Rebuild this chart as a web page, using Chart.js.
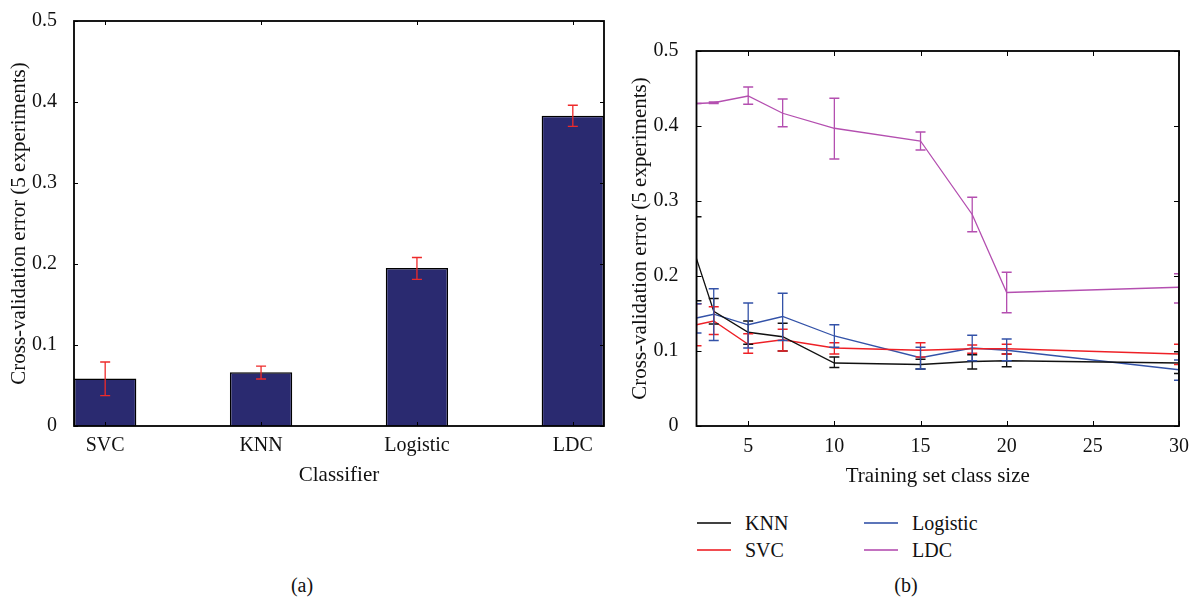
<!DOCTYPE html>
<html>
<head>
<meta charset="utf-8">
<script src="https://cdn.jsdelivr.net/npm/chart.js@4.4.0/dist/chart.umd.min.js"></script>
<style>
  body { margin: 0; background: #fff; width: 1196px; height: 600px; position: relative; overflow: hidden;
         font-family: "Liberation Serif", serif; color: #111; }
  #chartA { position: absolute; left: 0; top: 0; }
  #chartB { position: absolute; left: 620px; top: 0; }
  .caption { position: absolute; top: 573px; font-size: 20px; line-height: 24px; transform: translateX(-50%); }
  .legItem { position: absolute; height: 24px; font-size: 20px; line-height: 24px; white-space: nowrap; }
  .legLine { position: absolute; left: 0; top: 11px; width: 34px; height: 2px; }
  .legText { position: absolute; left: 48px; top: 0; }
</style>
</head>
<body>
<canvas id="chartA" width="620" height="500"></canvas>
<canvas id="chartB" width="576" height="500"></canvas>
<div class="caption" style="left:302px">(a)</div>
<div class="caption" style="left:906px">(b)</div>
<div id="legend"></div>
<script>
// (a) bar chart: mean cross-validation error per classifier
const classifiers = ['SVC', 'KNN', 'Logistic', 'LDC'];
const cvError = [0.0585, 0.0665, 0.195, 0.383];
const cvLow   = [0.0375, 0.058, 0.181, 0.370];
const cvHigh  = [0.079, 0.074, 0.208, 0.396];

// (b) error vs training set class size
const classSizes = [2, 3, 5, 7, 10, 15, 18, 20, 30];
const xTicks = [5, 10, 15, 20, 25, 30];
const seriesNames = ['KNN', 'SVC', 'Logistic', 'LDC'];
const seriesColors = ['#111111', '#ee2026', '#3352a8', '#b44fb0'];

const knnErr  = [0.223, 0.153, 0.125, 0.119, 0.084, 0.082, 0.086, 0.087, 0.084];
const knnLow  = [0.167, 0.136, 0.109, 0.100, 0.078, 0.076, 0.076, 0.079, 0.070];
const knnHigh = [0.279, 0.170, 0.140, 0.137, 0.092, 0.089, 0.095, 0.096, 0.099];

const svcErr  = [0.135, 0.140, 0.109, 0.115, 0.104, 0.101, 0.103, 0.103, 0.096];
const svcLow  = [0.107, 0.122, 0.097, 0.100, 0.096, 0.092, 0.097, 0.096, 0.082];
const svcHigh = [0.163, 0.159, 0.123, 0.129, 0.111, 0.111, 0.108, 0.109, 0.109];

const logErr  = [0.144, 0.149, 0.135, 0.146, 0.120, 0.091, 0.104, 0.101, 0.075];
const logLow  = [0.124, 0.114, 0.104, 0.114, 0.105, 0.076, 0.087, 0.087, 0.061];
const logHigh = [0.163, 0.183, 0.164, 0.177, 0.135, 0.105, 0.121, 0.116, 0.088];

const ldcErr  = [0.430, 0.431, 0.440, 0.417, 0.397, 0.380, 0.282, 0.178, 0.185];
const ldcLow  = [0.430, 0.430, 0.429, 0.399, 0.356, 0.368, 0.259, 0.151, 0.164];
const ldcHigh = [0.430, 0.432, 0.452, 0.436, 0.437, 0.392, 0.305, 0.205, 0.203];

const seriesErr  = [knnErr, svcErr, logErr, ldcErr];
const seriesLow  = [knnLow, svcLow, logLow, ldcLow];
const seriesHigh = [knnHigh, svcHigh, logHigh, ldcHigh];

Chart.defaults.font.family = '"Liberation Serif", serif';
Chart.defaults.font.size = 20;
Chart.defaults.color = '#111';

// vertical error bars with caps, drawn from each dataset's errLow / errHigh
const errorBars = {
  id: 'errorBars',
  afterDatasetsDraw(chart, args, opts) {
    const { ctx, chartArea: a, scales: { y } } = chart;
    ctx.save();
    ctx.beginPath();
    ctx.rect(a.left, a.top - 1, a.right - a.left, a.bottom - a.top + 2);
    ctx.clip();
    chart.data.datasets.forEach((ds, i) => {
      if (!ds.errLow) return;
      const meta = chart.getDatasetMeta(i);
      ctx.strokeStyle = ds.errColor || ds.borderColor;
      ctx.lineWidth = opts.lineWidth;
      meta.data.forEach((el, j) => {
        const px = el.x;
        const lo = y.getPixelForValue(ds.errLow[j]);
        const hi = y.getPixelForValue(ds.errHigh[j]);
        const c = opts.cap;
        ctx.beginPath();
        ctx.moveTo(px, lo); ctx.lineTo(px, hi);
        ctx.moveTo(px - c, lo); ctx.lineTo(px + c, lo);
        ctx.moveTo(px - c, hi); ctx.lineTo(px + c, hi);
        ctx.stroke();
      });
    });
    ctx.restore();
  }
};

// closed box with inward tick marks on all four sides
const frame = {
  id: 'frame',
  afterDraw(chart, args, opts) {
    const { ctx, chartArea: a, scales: { x, y } } = chart;
    const len = opts.tickLen;
    ctx.save();
    ctx.strokeStyle = '#000';
    ctx.lineWidth = 1;
    ctx.beginPath();
    x.ticks.forEach(t => {
      const px = Math.round(x.getPixelForValue(t.value)) + 0.5;
      ctx.moveTo(px, a.top); ctx.lineTo(px, a.top + len);
      ctx.moveTo(px, a.bottom); ctx.lineTo(px, a.bottom - len);
    });
    y.ticks.forEach(t => {
      const py = Math.round(y.getPixelForValue(t.value)) + 0.5;
      ctx.moveTo(a.left, py); ctx.lineTo(a.left + len, py);
      ctx.moveTo(a.right, py); ctx.lineTo(a.right - len, py);
    });
    ctx.stroke();
    ctx.lineWidth = 1.8;
    ctx.strokeRect(a.left, a.top, a.right - a.left, a.bottom - a.top);
    ctx.restore();
  }
};

const yTickFmt = v => String(+v.toFixed(1));
const yAxisTitle = 'Cross-validation error (5 experiments)';
const titleFont = { size: 21 };

new Chart(document.getElementById('chartA'), {
  type: 'bar',
  data: {
    datasets: [{
      data: classifiers.map((c, i) => ({ x: i + 1, y: cvError[i] })),
      backgroundColor: '#2a2a70',
      borderColor: '#000',
      borderWidth: 1.5,
      barPercentage: 0.4,
      categoryPercentage: 1,
      errLow: cvLow,
      errHigh: cvHigh,
      errColor: '#ee2a2a'
    }]
  },
  options: {
    responsive: false,
    animation: false,
    layout: { padding: { top: 13, right: 16, left: 0, bottom: 0 } },
    scales: {
      x: {
        type: 'linear', min: 0.8, max: 4.2, offset: false,
        grid: { display: false }, border: { display: false },
        afterBuildTicks: s => { s.ticks = classifiers.map((c, i) => ({ value: i + 1 })); },
        afterFit: s => { s.height = 74; },
        ticks: { padding: 0, maxRotation: 0, callback: v => classifiers[v - 1] },
        title: { display: true, text: 'Classifier', font: titleFont, padding: { top: 0, bottom: 12 } }
      },
      y: {
        min: 0, max: 0.5,
        grid: { display: false }, border: { display: false },
        afterFit: s => { s.width = 74; },
        ticks: { stepSize: 0.1, padding: 9, callback: yTickFmt },
        title: { display: true, text: yAxisTitle, font: titleFont, padding: { top: 7, bottom: 0 } }
      }
    },
    plugins: {
      legend: { display: false },
      tooltip: { enabled: false },
      errorBars: { cap: 5, lineWidth: 1.3 },
      frame: { tickLen: 4 }
    }
  },
  plugins: [errorBars, frame]
});

new Chart(document.getElementById('chartB'), {
  type: 'line',
  data: {
    datasets: seriesNames.map((name, k) => ({
      label: name,
      data: classSizes.map((s, i) => ({ x: s, y: seriesErr[k][i] })),
      borderColor: seriesColors[k],
      borderWidth: 1.3,
      pointRadius: 0,
      tension: 0,
      fill: false,
      errLow: seriesLow[k],
      errHigh: seriesHigh[k]
    }))
  },
  options: {
    responsive: false,
    animation: false,
    layout: { padding: { top: 51, right: 17, left: 0, bottom: 0 } },
    scales: {
      x: {
        type: 'linear', min: 2, max: 30,
        grid: { display: false }, border: { display: false },
        afterBuildTicks: s => { s.ticks = xTicks.map(v => ({ value: v })); },
        afterFit: s => { s.height = 74; },
        ticks: { padding: 1, maxRotation: 0 },
        title: { display: true, text: 'Training set class size', font: titleFont, padding: { top: 0, bottom: 11 } }
      },
      y: {
        min: 0, max: 0.5,
        grid: { display: false }, border: { display: false },
        afterFit: s => { s.width = 76.5; },
        ticks: { stepSize: 0.1, padding: 10, callback: yTickFmt },
        title: { display: true, text: yAxisTitle, font: titleFont, padding: { top: 8, bottom: 0 } }
      }
    },
    plugins: {
      legend: { display: false },
      tooltip: { enabled: false },
      errorBars: { cap: 5, lineWidth: 1.3 },
      frame: { tickLen: 5 }
    }
  },
  plugins: [errorBars, frame]
});

// legend for (b): two columns, two rows
const legend = document.getElementById('legend');
seriesNames.forEach((name, k) => {
  const col = Math.floor(k / 2), row = k % 2;
  const item = document.createElement('div');
  item.className = 'legItem';
  item.style.left = (697 + col * 167) + 'px';
  item.style.top = (511 + row * 27) + 'px';
  item.innerHTML = '<div class="legLine" style="background:' + seriesColors[k] + ';opacity:0.8"></div>' +
                   '<div class="legText">' + name + '</div>';
  legend.appendChild(item);
});
</script>
</body>
</html>
